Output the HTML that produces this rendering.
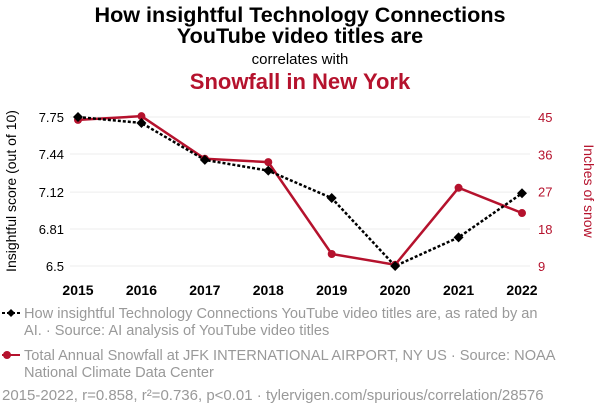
<!DOCTYPE html>
<html><head><meta charset="utf-8"><style>
body{margin:0;background:#fff;font-family:"Liberation Sans",sans-serif}
</style></head><body>
<svg width="600" height="414" font-family="Liberation Sans, sans-serif">
<text x="300" y="22" text-anchor="middle" font-size="21.6" font-weight="bold" fill="#000">How insightful Technology Connections</text>
<text x="300" y="43" text-anchor="middle" font-size="21.6" font-weight="bold" fill="#000">YouTube video titles are</text>
<text x="300" y="64" text-anchor="middle" font-size="15" fill="#000">correlates with</text>
<text x="300" y="89" text-anchor="middle" font-size="22" font-weight="bold" fill="#b5122d">Snowfall in New York</text>
<g id="grid"></g>
<g id="axes"></g>
<g id="marks"></g>
<text transform="translate(16,191) rotate(-90)" text-anchor="middle" font-size="14" fill="#000">Insightful score (out of 10)</text>
<text transform="translate(584,191) rotate(90)" text-anchor="middle" font-size="14" fill="#b5122d">Inches of snow</text>
<g>
<line x1="2" y1="313" x2="20" y2="313" stroke="#000" stroke-width="2" stroke-dasharray="3,2"/>
<path d="M7,313 l4,-4 l4,4 l-4,4z" fill="#000"/>
<text x="24" y="318" font-size="14.6" fill="#999">How insightful Technology Connections YouTube video titles are, as rated by an</text>
<text x="24" y="335" font-size="14.6" fill="#999">AI. · Source: AI analysis of YouTube video titles</text>
</g>
<g>
<line x1="2" y1="355" x2="20" y2="355" stroke="#b5122d" stroke-width="2"/>
<circle cx="7" cy="355" r="4" fill="#b5122d"/>
<text x="24" y="360" font-size="14.6" fill="#999">Total Annual Snowfall at JFK INTERNATIONAL AIRPORT, NY US · Source: NOAA</text>
<text x="24" y="377" font-size="14.6" fill="#999">National Climate Data Center</text>
</g>
<text x="2" y="400" font-size="15" fill="#999">2015-2022, r=0.858, r²=0.736, p&lt;0.01 · tylervigen.com/spurious/correlation/28576</text>
</svg>
<script>
const years=[2015,2016,2017,2018,2019,2020,2021,2022];
const scores=[7.75,7.70,7.39,7.30,7.07,6.5,6.74,7.11];
const snow=[44.3,45.2,34.9,34.1,11.9,9.3,27.9,21.8];
const leftTicks=[6.5,6.81,7.12,7.44,7.75];
const rightTicks=[9,18,27,36,45];
const NS="http://www.w3.org/2000/svg";
const x=y=>78+(y-2015)*(522-78)/7;
const yl=v=>266-(v-6.5)*(149/1.25);
const yr=v=>266-(v-9)*(149/36);
function mk(t,a,p){const e=document.createElementNS(NS,t);for(const k in a)e.setAttribute(k,a[k]);document.getElementById(p).appendChild(e);return e;}
leftTicks.forEach(v=>{
 const g=mk("line",{x1:70,x2:530,y1:yl(v),y2:yl(v),stroke:"#eee","stroke-width":1},"grid");
 
 
 const t=mk("text",{x:64,y:yl(v)+5,"text-anchor":"end","font-size":13,fill:"#000"},"axes");t.textContent=v;
 
 
});
rightTicks.forEach(v=>{
 const t=mk("text",{x:538,y:yr(v)+5,"font-size":13,fill:"#b5122d"},"axes");t.textContent=v;
 
 
});
years.forEach(yv=>{
 const t=mk("text",{x:x(yv),y:295,"text-anchor":"middle","font-size":14,"font-weight":"bold",fill:"#000"},"axes");t.textContent=yv;
 
 
});
const rl=mk("polyline",{points:years.map((yv,i)=>x(yv)+","+yr(snow[i])).join(" "),fill:"none",stroke:"#b5122d","stroke-width":2.5},"marks");


const bl=mk("polyline",{points:years.map((yv,i)=>x(yv)+","+yl(scores[i])).join(" "),fill:"none",stroke:"#000","stroke-width":2.5,"stroke-dasharray":"3,2"},"marks");


years.forEach((yv,i)=>{
 const c=mk("circle",{cx:x(yv),cy:yr(snow[i]),r:4,fill:"#b5122d"},"marks");
 
 
 const px=x(yv),py=yl(scores[i]);
 const d=mk("path",{d:`M${px-5},${py} L${px},${py-5} L${px+5},${py} L${px},${py+5}Z`,fill:"#000"},"marks");
 
 
});
</script>
</body></html>
